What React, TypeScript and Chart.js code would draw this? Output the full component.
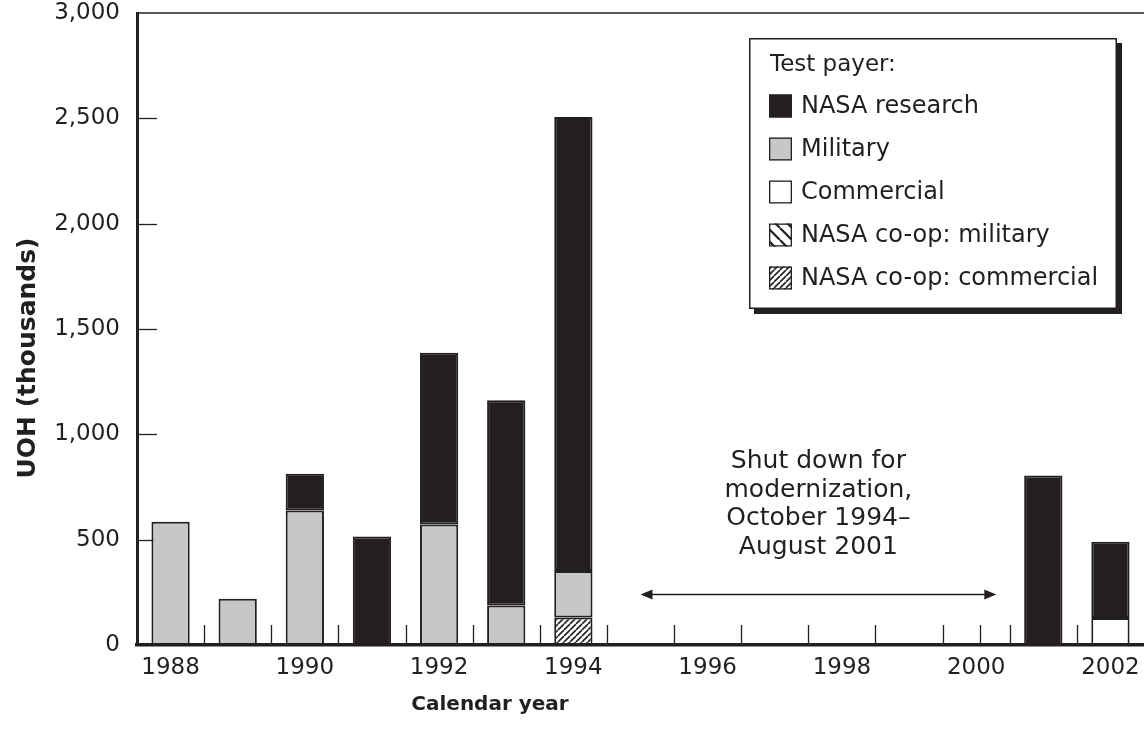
import { useEffect, useRef } from 'react';
import { Chart, registerables } from 'chart.js';

Chart.register(...registerables);

const YEARS = ['1988', '1989', '1990', '1991', '1992', '1993', '1994', '1995', '1996', '1997', '1998', '1999', '2000', '2001', '2002'];
const X_TICK_LABELS = ['1988', '', '1990', '', '1992', '', '1994', '', '1996', '', '1998', '', '2000', '', '2002'];
const NASA_RESEARCH = [0, 0, 175, 515, 815, 975, 2155, 0, 0, 0, 0, 0, 0, 805, 362];
const MILITARY = [585, 220, 638, 0, 572, 187, 220, 0, 0, 0, 0, 0, 0, 0, 0];
const COMMERCIAL = [0, 0, 0, 0, 0, 0, 0, 0, 0, 0, 0, 0, 0, 0, 128];
const COOP_MILITARY = [0, 0, 0, 0, 0, 0, 0, 0, 0, 0, 0, 0, 0, 0, 0];
const COOP_COMMERCIAL = [0, 0, 0, 0, 0, 0, 131, 0, 0, 0, 0, 0, 0, 0, 0];
const Y_TICKS = [0, 500, 1000, 1500, 2000, 2500, 3000];
const EXTRA_X_TICKS = [12.06];
const X_TITLE = 'Calendar year';
const Y_TITLE = 'UOH (thousands)';
const LEGEND_TITLE = 'Test payer:';
const LEGEND_ORDER = ['NASA research', 'Military', 'Commercial', 'NASA co-op: military', 'NASA co-op: commercial'];
const ANNOTATION_LINES = ['Shut down for', 'modernization,', 'October 1994\u2013', 'August 2001'];
const ARROW_FROM = 7; // category index (1995)
const ARROW_TO = 12.3; // category index (~2000)
const ARROW_VALUE = 240;

const INK = '#231f20';
const GRAY = '#c6c7c9';
const FONT = '"DejaVu Sans", sans-serif';

function makePattern(kind: 'back' | 'fwd') {
  const c = document.createElement('canvas');
  const s = kind === 'fwd' ? 6 : 12;
  c.width = s;
  c.height = s;
  const g = c.getContext('2d')!;
  g.fillStyle = '#ffffff';
  g.fillRect(0, 0, s, s);
  g.strokeStyle = INK;
  g.lineWidth = kind === 'fwd' ? 1.6 : 2.2;
  g.beginPath();
  for (let k = -1; k <= 1; k++) {
    if (kind === 'fwd') {
      g.moveTo(k * s, s);
      g.lineTo(k * s + s, 0);
    } else {
      g.moveTo(k * s, 0);
      g.lineTo(k * s + s, s);
    }
  }
  g.stroke();
  return g.createPattern(c, 'repeat') as CanvasPattern;
}

export default function App() {
  const ref = useRef<HTMLCanvasElement | null>(null);

  useEffect(() => {
    document.body.style.margin = '0';
    const canvas = ref.current!;
    const fwd = makePattern('fwd');
    const back = makePattern('back');
    const nz = (a: number[]) => a.map((v) => (v ? v : null));

    const datasets = [
      { label: 'NASA co-op: commercial', data: nz(COOP_COMMERCIAL), backgroundColor: fwd },
      { label: 'NASA co-op: military', data: nz(COOP_MILITARY), backgroundColor: back },
      { label: 'Commercial', data: nz(COMMERCIAL), backgroundColor: '#ffffff' },
      { label: 'Military', data: nz(MILITARY), backgroundColor: GRAY },
      { label: 'NASA research', data: nz(NASA_RESEARCH), backgroundColor: INK },
    ].map((d) => ({
      ...d,
      borderColor: INK,
      borderWidth: 2,
      borderSkipped: false,
      barPercentage: 0.57,
      categoryPercentage: 1,
    }));

    const line = (ctx: CanvasRenderingContext2D, x1: number, y1: number, x2: number, y2: number) => {
      ctx.beginPath();
      ctx.moveTo(x1, y1);
      ctx.lineTo(x2, y2);
      ctx.stroke();
    };

    const custom = {
      id: 'custom',
      beforeDatasetsDraw(chart: any) {
        const { ctx, chartArea, scales } = chart;
        const { left, right, top, bottom } = chartArea;
        const x = scales.x;
        const y = scales.y;
        ctx.save();
        ctx.strokeStyle = INK;
        ctx.lineWidth = 1.3;
        Y_TICKS.forEach((v) => {
          if (v === Y_TICKS[0] || v === Y_TICKS[Y_TICKS.length - 1]) return;
          const py = Math.round(y.getPixelForValue(v)) + 0.5;
          line(ctx, left, py, left + 20, py);
        });
        const xt: number[] = [];
        for (let i = 0; i < YEARS.length - 1; i++) xt.push(i + 0.5);
        [...xt, ...EXTRA_X_TICKS].forEach((v) => {
          const px = Math.round(x.getPixelForValue(v)) + 0.5;
          line(ctx, px, bottom, px, bottom - 20);
        });
        ctx.lineWidth = 1.6;
        line(ctx, left, top, right, top);
        ctx.restore();
      },
      afterDatasetsDraw(chart: any) {
        const { ctx, chartArea, scales } = chart;
        const x = scales.x;
        const y = scales.y;
        ctx.save();
        // axis titles
        ctx.fillStyle = INK;
        ctx.textAlign = 'center';
        ctx.textBaseline = 'middle';
        ctx.font = `bold 20px ${FONT}`;
        ctx.fillText(X_TITLE, 490, chartArea.bottom + 60);
        ctx.save();
        ctx.translate(28, 358);
        ctx.rotate(-Math.PI / 2);
        ctx.font = `bold 25px ${FONT}`;
        ctx.fillText(Y_TITLE, 0, 0);
        ctx.restore();

        // annotation arrow
        const x1 = x.getPixelForValue(ARROW_FROM);
        const x2 = x.getPixelForValue(ARROW_TO);
        const ay = y.getPixelForValue(ARROW_VALUE);
        ctx.strokeStyle = INK;
        ctx.fillStyle = INK;
        ctx.lineWidth = 1.5;
        line(ctx, x1 + 6, ay, x2 - 6, ay);
        ctx.beginPath();
        ctx.moveTo(x1, ay);
        ctx.lineTo(x1 + 12, ay - 5);
        ctx.lineTo(x1 + 12, ay + 5);
        ctx.closePath();
        ctx.fill();
        ctx.beginPath();
        ctx.moveTo(x2, ay);
        ctx.lineTo(x2 - 12, ay - 5);
        ctx.lineTo(x2 - 12, ay + 5);
        ctx.closePath();
        ctx.fill();
        // annotation text
        ctx.font = `25px ${FONT}`;
        ctx.textAlign = 'center';
        ctx.textBaseline = 'middle';
        const cx = (x1 + x2) / 2;
        const lh = 28.5;
        ANNOTATION_LINES.forEach((t, i) => {
          ctx.fillText(t, cx, ay - 47 - (ANNOTATION_LINES.length - 1 - i) * lh);
        });

        // legend
        const bx = chartArea.right - 395;
        const by = chartArea.top + 25;
        const bw = 368;
        const bh = 271;
        ctx.fillStyle = INK;
        ctx.fillRect(bx + 5, by + 5, bw, bh);
        ctx.fillStyle = '#ffffff';
        ctx.fillRect(bx, by, bw, bh);
        ctx.lineWidth = 1.5;
        ctx.strokeStyle = INK;
        ctx.strokeRect(bx + 0.75, by + 0.75, bw - 1.5, bh - 1.5);
        ctx.fillStyle = INK;
        ctx.textAlign = 'left';
        ctx.font = `23px ${FONT}`;
        ctx.fillText(LEGEND_TITLE, bx + 21, by + 27);
        ctx.font = `24px ${FONT}`;
        LEGEND_ORDER.forEach((lab, i) => {
          const ds = chart.data.datasets.find((d: any) => d.label === lab);
          const cy = by + 68 + i * 43;
          const sx = bx + 20;
          const s = 23;
          ctx.fillStyle = ds.backgroundColor;
          ctx.fillRect(sx, cy - s / 2, s, s);
          ctx.lineWidth = 1.3;
          ctx.strokeStyle = INK;
          ctx.strokeRect(sx + 0.65, cy - s / 2 + 0.65, s - 1.3, s - 1.3);
          ctx.fillStyle = INK;
          ctx.fillText(lab, bx + 52, cy + 1);
        });
        ctx.restore();
      },
    };

    const chart = new Chart(canvas, {
      type: 'bar',
      data: { labels: YEARS, datasets: datasets as any },
      plugins: [custom as any],
      options: {
        responsive: false,
        maintainAspectRatio: false,
        animation: false,
        layout: { padding: { top: 13, right: 0, left: 0, bottom: 0 } },
        plugins: { legend: { display: false }, tooltip: { enabled: false } },
        scales: {
          x: {
            stacked: true,
            grid: { display: false, drawTicks: false },
            border: { display: true, color: INK, width: 3.5 },
            ticks: {
              autoSkip: false,
              maxRotation: 0,
              padding: 9,
              color: INK,
              font: { family: FONT, size: 23 },
              callback: (_v: any, i: number) => X_TICK_LABELS[i],
            },
            title: { display: false, text: X_TITLE },
            afterFit: (s: any) => {
              s.height = 89;
              s.paddingLeft = 0;
              s.paddingRight = 0;
            },
          },
          y: {
            stacked: true,
            min: 0,
            max: 3000,
            afterBuildTicks: (s: any) => {
              s.ticks = Y_TICKS.map((v) => ({ value: v }));
            },
            grid: { display: false, drawTicks: false },
            border: { display: true, color: INK, width: 3 },
            ticks: {
              padding: 17,
              color: INK,
              font: { family: FONT, size: 23 },
              callback: (v: any) => Number(v).toLocaleString('en-US'),
            },
            title: { display: false, text: Y_TITLE },
            afterFit: (s: any) => {
              s.width = 137;
              s.paddingTop = 0;
              s.paddingBottom = 0;
            },
          },
        },
      } as any,
    });
    return () => chart.destroy();
  }, []);

  return <canvas ref={ref} width={1144} height={734} style={{ display: 'block' }} />;
}
